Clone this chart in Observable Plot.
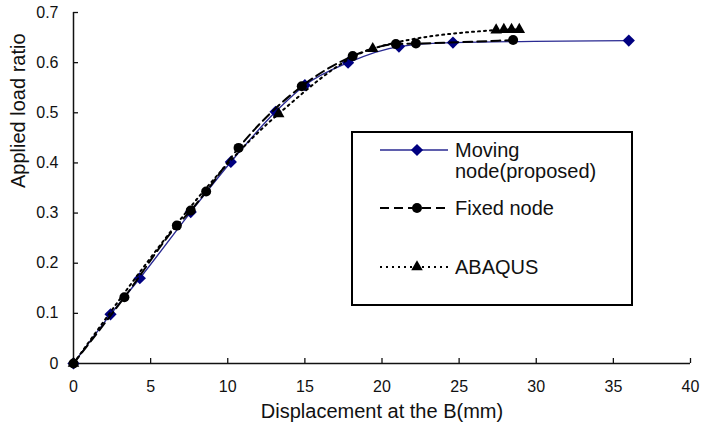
<!DOCTYPE html>
<html>
<head>
<meta charset="utf-8">
<script src="https://cdn.jsdelivr.net/npm/d3@7"></script>
<script src="https://cdn.jsdelivr.net/npm/@observablehq/plot@0.6"></script>
<style>
  html, body { margin: 0; padding: 0; background: #fff; }
  #chart { width: 707px; height: 430px; }
</style>
</head>
<body>
<div id="chart"></div>
<script>
// Load–displacement response at point B for three analyses
const movingX = [0, 2.4, 4.3, 7.6, 10.2, 13.1, 15.0, 17.8, 21.1, 24.6, 36.0];
const movingY = [0, 0.098, 0.17, 0.302, 0.402, 0.502, 0.555, 0.600, 0.632, 0.640, 0.644];

const fixedX = [0, 3.3, 6.7, 7.6, 8.6, 10.7, 14.8, 18.1, 20.9, 22.2, 28.5];
const fixedY = [0, 0.132, 0.275, 0.305, 0.343, 0.430, 0.553, 0.613, 0.637, 0.638, 0.645];

const abaqusX = [0, 13.3, 19.4, 27.4, 27.9, 28.4, 28.9];
const abaqusY = [0, 0.498, 0.628, 0.665, 0.666, 0.666, 0.666];

const seriesNames = ["Moving node(proposed)", "Fixed node", "ABAQUS"];
const xTicks = [0, 5, 10, 15, 20, 25, 30, 35, 40];
const yTicks = [0, 0.1, 0.2, 0.3, 0.4, 0.5, 0.6, 0.7];
const xTitle = "Displacement at the B(mm)";
const yTitle = "Applied load ratio";

const rows = (xs, ys) => xs.map((x, i) => ({x, y: ys[i]}));
const moving = rows(movingX, movingY);
const fixed = rows(fixedX, fixedY);
const abaqus = rows(abaqusX, abaqusY);

const navy = "#000080";
const navyLine = "#2a2a92";
const font = "'Liberation Sans', Arial, Helvetica, sans-serif";

const style = {
  moving: {stroke: navyLine, strokeWidth: 1.4, dash: null, symbol: "diamond2", r: 5.5, fill: navy},
  fixed: {stroke: "#000", strokeWidth: 2, dash: "9,5", symbol: "circle", r: 5, fill: "#000"},
  abaqus: {stroke: "#000", strokeWidth: 2, dash: "2,4", symbol: "triangle", r: 4.3, fill: "#000"}
};

function series(data, s) {
  return [
    Plot.line(data, {x: "x", y: "y", stroke: s.stroke, strokeWidth: s.strokeWidth,
      strokeDasharray: s.dash, curve: "monotone-x"}),
    Plot.dot(data, {x: "x", y: "y", symbol: s.symbol, r: s.r, fill: s.fill, stroke: "none"})
  ];
}

const chart = Plot.plot({
  width: 707,
  height: 430,
  marginLeft: 73,
  marginRight: 17,
  marginTop: 12,
  marginBottom: 67,
  style: {fontFamily: font, fontSize: "16px", color: "#111", background: "#fff"},
  x: {domain: [0, 40]},
  y: {domain: [0, 0.7]},
  marks: [
    Plot.axisX({ticks: xTicks, tickSize: -5, tickPadding: 22, strokeWidth: 1.3,
      tickFormat: d => String(d), label: null}),
    Plot.axisY({ticks: yTicks, tickSize: -5, tickPadding: 20, strokeWidth: 1.3,
      tickFormat: d => d === 0 ? "0" : d.toFixed(1), label: null}),
    Plot.ruleX([0], {strokeWidth: 1.5}),
    Plot.ruleY([0], {strokeWidth: 1.5}),
    ...series(moving, style.moving),
    ...series(fixed, style.fixed),
    ...series(abaqus, style.abaqus),
    Plot.text([xTitle], {frameAnchor: "bottom", dy: 54, fontSize: 20, fill: "#111"}),
    Plot.text([yTitle], {frameAnchor: "left", dx: -55, rotate: -90, fontSize: 20, fill: "#111"})
  ]
});

document.getElementById("chart").appendChild(chart);

// Boxed legend inside the plot area
const symbolTypes = {diamond2: d3.symbolDiamond2, circle: d3.symbolCircle, triangle: d3.symbolTriangle};
const legend = d3.select(chart).append("g")
  .attr("font-family", font).attr("font-size", 20).attr("fill", "#111")
  .attr("text-anchor", "start");
legend.append("rect")
  .attr("x", 352).attr("y", 132).attr("width", 280).attr("height", 173)
  .attr("fill", "#fff").attr("stroke", "#000").attr("stroke-width", 2);

const entries = [
  {s: style.moving, y: 150, lines: ["Moving", "node(proposed)"]},
  {s: style.fixed, y: 208, lines: [seriesNames[1]]},
  {s: style.abaqus, y: 267, lines: [seriesNames[2]]}
];
entries.forEach(e => {
  const g = legend.append("g");
  g.append("line")
    .attr("x1", 380).attr("x2", 448).attr("y1", e.y).attr("y2", e.y)
    .attr("stroke", e.s.stroke).attr("stroke-width", e.s.strokeWidth)
    .attr("stroke-dasharray", e.s.dash);
  g.append("path")
    .attr("transform", `translate(417,${e.y})`)
    .attr("d", d3.symbol(symbolTypes[e.s.symbol], Math.PI * e.s.r * e.s.r)())
    .attr("fill", e.s.fill);
  e.lines.forEach((t, i) => {
    g.append("text")
      .attr("x", 455).attr("y", e.y + i * 21)
      .attr("dy", "0.35em")
      .attr("text-anchor", "start")
      .text(t);
  });
});
</script>
</body>
</html>
